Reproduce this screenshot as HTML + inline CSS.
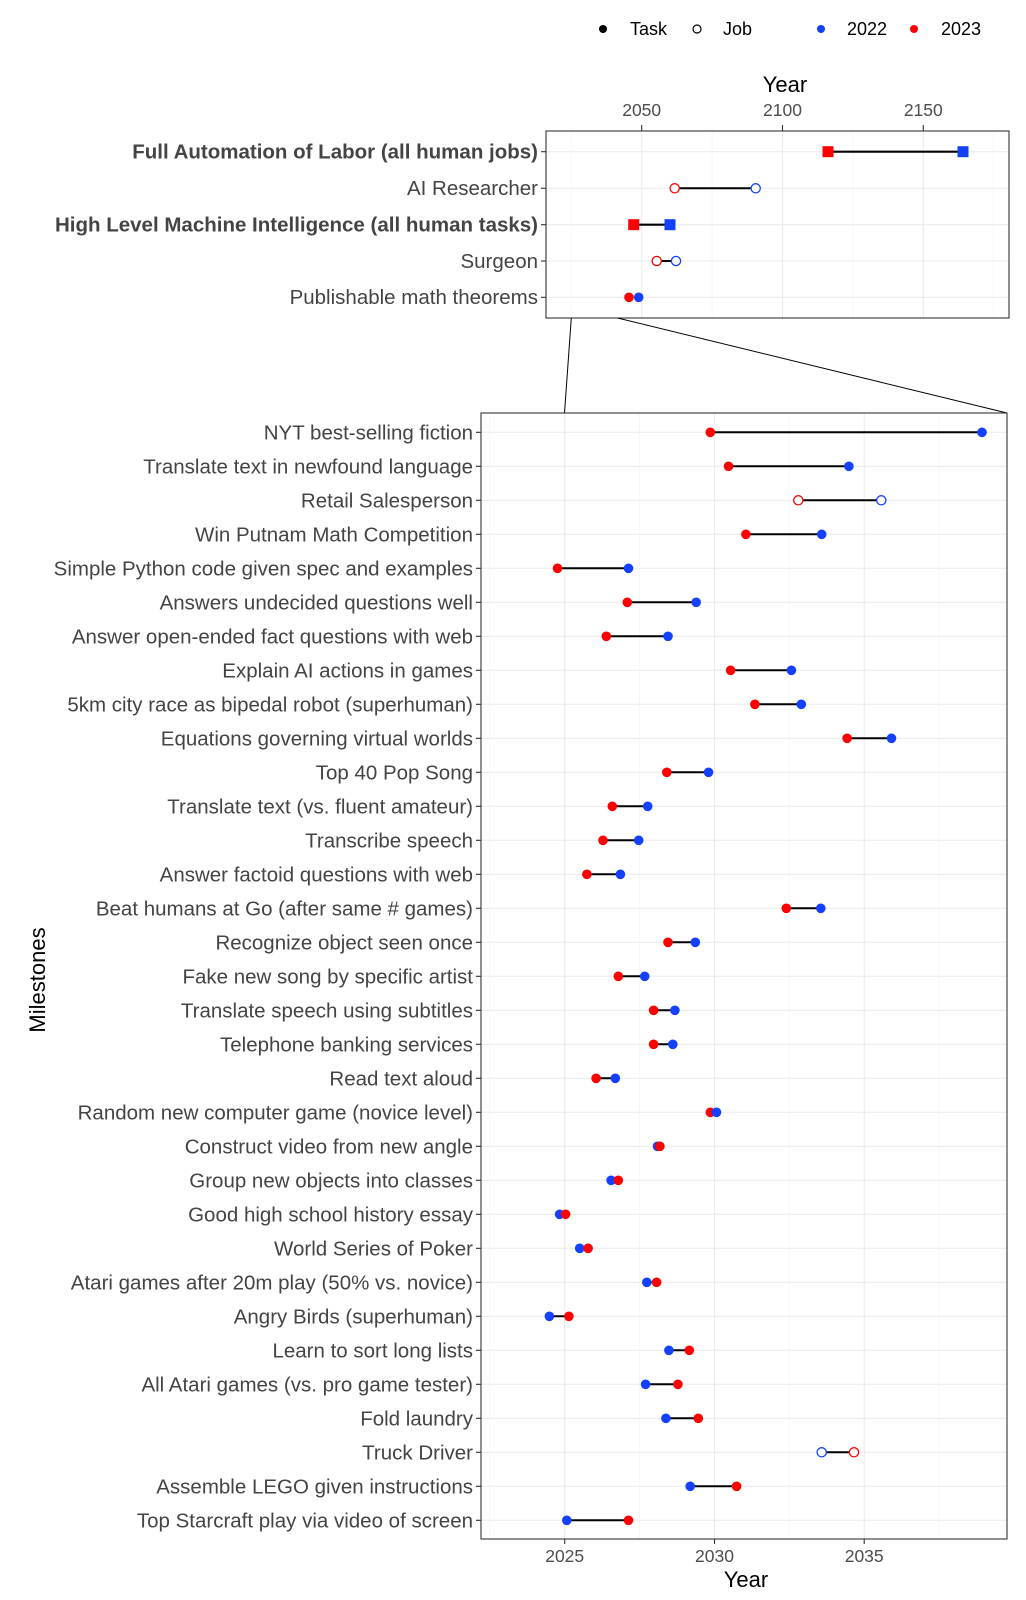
<!DOCTYPE html>
<html><head><meta charset="utf-8"><style>
html,body{margin:0;padding:0;background:#fff;}
svg{display:block;font-family:"Liberation Sans",Arial,sans-serif;}
.lab{font-size:20.5px;fill:#444;text-anchor:end;}
.tk{font-size:17.5px;fill:#4d4d4d;text-anchor:middle;}
.g{stroke:#ebebeb;stroke-width:1.1;}
.gm{stroke:#f2f2f2;stroke-width:0.6;}
.r{fill:#ff0000;}
.b{fill:#1440ff;}
.ro{fill:#fff;stroke:#ff0000;stroke-width:1.3;}
.bo{fill:#fff;stroke:#1440ff;stroke-width:1.3;}
.ln{stroke:#000;stroke-width:2;}
</style></head><body>
<svg width="1026" height="1600" viewBox="0 0 1026 1600" xmlns="http://www.w3.org/2000/svg">
<rect width="1026" height="1600" fill="#fff"/>
<g font-size="18" fill="#000">
<circle cx="603" cy="29" r="4" fill="#000"/><text x="630" y="35">Task</text>
<circle cx="697" cy="29" r="4" fill="#fff" stroke="#000" stroke-width="1.2"/><text x="723" y="35">Job</text>
<circle cx="821" cy="29" r="4" class="b"/><text x="847" y="35">2022</text>
<circle cx="914" cy="29" r="4" class="r"/><text x="941" y="35">2023</text>
</g>
<text x="785" y="92" font-size="22" text-anchor="middle" fill="#000">Year</text>
<text class="tk" x="641.7" y="116">2050</text>
<text class="tk" x="782.5" y="116">2100</text>
<text class="tk" x="923.3" y="116">2150</text>
<line x1="641.7" y1="125" x2="641.7" y2="131" stroke="#333" stroke-width="1.1"/>
<line x1="782.5" y1="125" x2="782.5" y2="131" stroke="#333" stroke-width="1.1"/>
<line x1="923.3" y1="125" x2="923.3" y2="131" stroke="#333" stroke-width="1.1"/>
<g>
<line class="gm" x1="571.3" y1="131" x2="571.3" y2="318"/>
<line class="gm" x1="712.1" y1="131" x2="712.1" y2="318"/>
<line class="gm" x1="852.9" y1="131" x2="852.9" y2="318"/>
<line class="gm" x1="993.7" y1="131" x2="993.7" y2="318"/>
<line class="g" x1="641.7" y1="131" x2="641.7" y2="318"/>
<line class="g" x1="782.5" y1="131" x2="782.5" y2="318"/>
<line class="g" x1="923.3" y1="131" x2="923.3" y2="318"/>
<line class="g" x1="546" y1="151.7" x2="1009" y2="151.7"/>
<line class="g" x1="546" y1="188.3" x2="1009" y2="188.3"/>
<line class="g" x1="546" y1="224.7" x2="1009" y2="224.7"/>
<line class="g" x1="546" y1="261" x2="1009" y2="261"/>
<line class="g" x1="546" y1="297.3" x2="1009" y2="297.3"/>
</g>
<rect x="546" y="131" width="463" height="187" fill="none" stroke="#333" stroke-width="1.1"/>
<g stroke="#333" stroke-width="1.1">
<line x1="541" y1="151.7" x2="546" y2="151.7"/><line x1="541" y1="188.3" x2="546" y2="188.3"/><line x1="541" y1="224.7" x2="546" y2="224.7"/><line x1="541" y1="261" x2="546" y2="261"/><line x1="541" y1="297.3" x2="546" y2="297.3"/>
</g>
<text class="lab" x="538" y="158.5" font-weight="bold">Full Automation of Labor (all human jobs)</text>
<text class="lab" x="538" y="195">AI Researcher</text>
<text class="lab" x="538" y="231.5" font-weight="bold">High Level Machine Intelligence (all human tasks)</text>
<text class="lab" x="538" y="268">Surgeon</text>
<text class="lab" x="538" y="304">Publishable math theorems</text>
<line x1="828" y1="151.7" x2="963" y2="151.7" stroke="#000" stroke-width="2.2"/>
<rect x="822.5" y="146.2" width="11" height="11" class="r"/><rect x="957.5" y="146.2" width="11" height="11" class="b"/>
<line class="ln" x1="674.7" y1="188.3" x2="755.7" y2="188.3"/>
<circle cx="674.7" cy="188.3" r="4.6" class="ro"/><circle cx="755.7" cy="188.3" r="4.6" class="bo"/>
<line x1="633.7" y1="224.7" x2="670" y2="224.7" stroke="#000" stroke-width="2.2"/>
<rect x="628.2" y="219.2" width="11" height="11" class="r"/><rect x="664.5" y="219.2" width="11" height="11" class="b"/>
<line class="ln" x1="656.7" y1="261" x2="676" y2="261"/>
<circle cx="656.7" cy="261" r="4.6" class="ro"/><circle cx="676" cy="261" r="4.6" class="bo"/>
<circle cx="629" cy="297.3" r="4.8" class="r"/><circle cx="638.7" cy="297.3" r="4.8" class="b"/>
<line x1="571.3" y1="318" x2="564.5" y2="413" stroke="#000" stroke-width="1"/>
<line x1="617.5" y1="318" x2="1007" y2="413" stroke="#000" stroke-width="1"/>
<g>
<line class="gm" x1="489.8" y1="413" x2="489.8" y2="1539"/>
<line class="gm" x1="639.6" y1="413" x2="639.6" y2="1539"/>
<line class="gm" x1="789.3" y1="413" x2="789.3" y2="1539"/>
<line class="gm" x1="939.1" y1="413" x2="939.1" y2="1539"/>
<line class="g" x1="564.7" y1="413" x2="564.7" y2="1539"/>
<line class="g" x1="714.5" y1="413" x2="714.5" y2="1539"/>
<line class="g" x1="864.2" y1="413" x2="864.2" y2="1539"/>
</g>
<g class="g">
<line x1="481" y1="432.3" x2="1007" y2="432.3"/><line x1="481" y1="466.3" x2="1007" y2="466.3"/><line x1="481" y1="500.3" x2="1007" y2="500.3"/><line x1="481" y1="534.3" x2="1007" y2="534.3"/><line x1="481" y1="568.3" x2="1007" y2="568.3"/><line x1="481" y1="602.3" x2="1007" y2="602.3"/><line x1="481" y1="636.3" x2="1007" y2="636.3"/><line x1="481" y1="670.3" x2="1007" y2="670.3"/><line x1="481" y1="704.3" x2="1007" y2="704.3"/><line x1="481" y1="738.3" x2="1007" y2="738.3"/><line x1="481" y1="772.3" x2="1007" y2="772.3"/><line x1="481" y1="806.3" x2="1007" y2="806.3"/><line x1="481" y1="840.3" x2="1007" y2="840.3"/><line x1="481" y1="874.3" x2="1007" y2="874.3"/><line x1="481" y1="908.3" x2="1007" y2="908.3"/><line x1="481" y1="942.3" x2="1007" y2="942.3"/><line x1="481" y1="976.3" x2="1007" y2="976.3"/><line x1="481" y1="1010.3" x2="1007" y2="1010.3"/><line x1="481" y1="1044.3" x2="1007" y2="1044.3"/><line x1="481" y1="1078.3" x2="1007" y2="1078.3"/><line x1="481" y1="1112.3" x2="1007" y2="1112.3"/><line x1="481" y1="1146.3" x2="1007" y2="1146.3"/><line x1="481" y1="1180.3" x2="1007" y2="1180.3"/><line x1="481" y1="1214.3" x2="1007" y2="1214.3"/><line x1="481" y1="1248.3" x2="1007" y2="1248.3"/><line x1="481" y1="1282.3" x2="1007" y2="1282.3"/><line x1="481" y1="1316.3" x2="1007" y2="1316.3"/><line x1="481" y1="1350.3" x2="1007" y2="1350.3"/><line x1="481" y1="1384.3" x2="1007" y2="1384.3"/><line x1="481" y1="1418.3" x2="1007" y2="1418.3"/><line x1="481" y1="1452.3" x2="1007" y2="1452.3"/><line x1="481" y1="1486.3" x2="1007" y2="1486.3"/><line x1="481" y1="1520.3" x2="1007" y2="1520.3"/>
</g>
<rect x="481" y="413" width="526" height="1126" fill="none" stroke="#333" stroke-width="1.1"/>
<g stroke="#333" stroke-width="1.1">
<line x1="564.7" y1="1539" x2="564.7" y2="1544"/><line x1="714.5" y1="1539" x2="714.5" y2="1544"/><line x1="864.2" y1="1539" x2="864.2" y2="1544"/>
</g>
<text class="tk" x="564.7" y="1562">2025</text>
<text class="tk" x="714.5" y="1562">2030</text>
<text class="tk" x="864.2" y="1562">2035</text>
<text x="746" y="1587" font-size="22" text-anchor="middle" fill="#000">Year</text>
<text x="0" y="0" font-size="22" text-anchor="middle" fill="#000" transform="translate(45,980) rotate(-90)">Milestones</text>
<g class="lab">
<text x="473" y="439.5">NYT best-selling fiction</text>
<text x="473" y="473.5">Translate text in newfound language</text>
<text x="473" y="507.5">Retail Salesperson</text>
<text x="473" y="541.5">Win Putnam Math Competition</text>
<text x="473" y="575.5">Simple Python code given spec and examples</text>
<text x="473" y="609.5">Answers undecided questions well</text>
<text x="473" y="643.5">Answer open-ended fact questions with web</text>
<text x="473" y="677.5">Explain AI actions in games</text>
<text x="473" y="711.5">5km city race as bipedal robot (superhuman)</text>
<text x="473" y="745.5">Equations governing virtual worlds</text>
<text x="473" y="779.5">Top 40 Pop Song</text>
<text x="473" y="813.5">Translate text (vs. fluent amateur)</text>
<text x="473" y="847.5">Transcribe speech</text>
<text x="473" y="881.5">Answer factoid questions with web</text>
<text x="473" y="915.5">Beat humans at Go (after same # games)</text>
<text x="473" y="949.5">Recognize object seen once</text>
<text x="473" y="983.5">Fake new song by specific artist</text>
<text x="473" y="1017.5">Translate speech using subtitles</text>
<text x="473" y="1051.5">Telephone banking services</text>
<text x="473" y="1085.5">Read text aloud</text>
<text x="473" y="1119.5">Random new computer game (novice level)</text>
<text x="473" y="1153.5">Construct video from new angle</text>
<text x="473" y="1187.5">Group new objects into classes</text>
<text x="473" y="1221.5">Good high school history essay</text>
<text x="473" y="1255.5">World Series of Poker</text>
<text x="473" y="1289.5">Atari games after 20m play (50% vs. novice)</text>
<text x="473" y="1323.5">Angry Birds (superhuman)</text>
<text x="473" y="1357.5">Learn to sort long lists</text>
<text x="473" y="1391.5">All Atari games (vs. pro game tester)</text>
<text x="473" y="1425.5">Fold laundry</text>
<text x="473" y="1459.5">Truck Driver</text>
<text x="473" y="1493.5">Assemble LEGO given instructions</text>
<text x="473" y="1527.5">Top Starcraft play via video of screen</text>
</g>
<g stroke="#333" stroke-width="1.1">
<path d="M476 432.3h5M476 466.3h5M476 500.3h5M476 534.3h5M476 568.3h5M476 602.3h5M476 636.3h5M476 670.3h5M476 704.3h5M476 738.3h5M476 772.3h5M476 806.3h5M476 840.3h5M476 874.3h5M476 908.3h5M476 942.3h5M476 976.3h5M476 1010.3h5M476 1044.3h5M476 1078.3h5M476 1112.3h5M476 1146.3h5M476 1180.3h5M476 1214.3h5M476 1248.3h5M476 1282.3h5M476 1316.3h5M476 1350.3h5M476 1384.3h5M476 1418.3h5M476 1452.3h5M476 1486.3h5M476 1520.3h5"/>
</g>
<g class="ln">
<line x1="710.3" y1="432.3" x2="982" y2="432.3"/>
<line x1="728.5" y1="466.3" x2="848.9" y2="466.3"/>
<line x1="798.3" y1="500.3" x2="881.3" y2="500.3"/>
<line x1="745.9" y1="534.3" x2="821.7" y2="534.3"/>
<line x1="557.5" y1="568.3" x2="628.5" y2="568.3"/>
<line x1="627.3" y1="602.3" x2="696.2" y2="602.3"/>
<line x1="606.3" y1="636.3" x2="668" y2="636.3"/>
<line x1="730.6" y1="670.3" x2="791.4" y2="670.3"/>
<line x1="754.9" y1="704.3" x2="801.3" y2="704.3"/>
<line x1="847.1" y1="738.3" x2="891.5" y2="738.3"/>
<line x1="666.8" y1="772.3" x2="708.5" y2="772.3"/>
<line x1="612.3" y1="806.3" x2="647.7" y2="806.3"/>
<line x1="603" y1="840.3" x2="638.7" y2="840.3"/>
<line x1="586.9" y1="874.3" x2="620.4" y2="874.3"/>
<line x1="786.3" y1="908.3" x2="820.8" y2="908.3"/>
<line x1="668" y1="942.3" x2="695.3" y2="942.3"/>
<line x1="618.3" y1="976.3" x2="644.7" y2="976.3"/>
<line x1="653.6" y1="1010.3" x2="674.9" y2="1010.3"/>
<line x1="653.6" y1="1044.3" x2="672.8" y2="1044.3"/>
<line x1="596.1" y1="1078.3" x2="615.3" y2="1078.3"/>
<line x1="646.8" y1="1282.3" x2="656.6" y2="1282.3"/>
<line x1="549.4" y1="1316.3" x2="568.9" y2="1316.3"/>
<line x1="668.9" y1="1350.3" x2="689.3" y2="1350.3"/>
<line x1="645.6" y1="1384.3" x2="677.9" y2="1384.3"/>
<line x1="665.9" y1="1418.3" x2="698.3" y2="1418.3"/>
<line x1="821.7" y1="1452.3" x2="854" y2="1452.3"/>
<line x1="690.2" y1="1486.3" x2="736.6" y2="1486.3"/>
<line x1="566.8" y1="1520.3" x2="628.5" y2="1520.3"/>
</g>
<g>
<circle cx="982" cy="432.3" r="4.8" class="b"/><circle cx="710.3" cy="432.3" r="4.8" class="r"/>
<circle cx="848.9" cy="466.3" r="4.8" class="b"/><circle cx="728.5" cy="466.3" r="4.8" class="r"/>
<circle cx="881.3" cy="500.3" r="4.6" class="bo"/><circle cx="798.3" cy="500.3" r="4.6" class="ro"/>
<circle cx="821.7" cy="534.3" r="4.8" class="b"/><circle cx="745.9" cy="534.3" r="4.8" class="r"/>
<circle cx="628.5" cy="568.3" r="4.8" class="b"/><circle cx="557.5" cy="568.3" r="4.8" class="r"/>
<circle cx="696.2" cy="602.3" r="4.8" class="b"/><circle cx="627.3" cy="602.3" r="4.8" class="r"/>
<circle cx="668" cy="636.3" r="4.8" class="b"/><circle cx="606.3" cy="636.3" r="4.8" class="r"/>
<circle cx="791.4" cy="670.3" r="4.8" class="b"/><circle cx="730.6" cy="670.3" r="4.8" class="r"/>
<circle cx="801.3" cy="704.3" r="4.8" class="b"/><circle cx="754.9" cy="704.3" r="4.8" class="r"/>
<circle cx="891.5" cy="738.3" r="4.8" class="b"/><circle cx="847.1" cy="738.3" r="4.8" class="r"/>
<circle cx="708.5" cy="772.3" r="4.8" class="b"/><circle cx="666.8" cy="772.3" r="4.8" class="r"/>
<circle cx="647.7" cy="806.3" r="4.8" class="b"/><circle cx="612.3" cy="806.3" r="4.8" class="r"/>
<circle cx="638.7" cy="840.3" r="4.8" class="b"/><circle cx="603" cy="840.3" r="4.8" class="r"/>
<circle cx="620.4" cy="874.3" r="4.8" class="b"/><circle cx="586.9" cy="874.3" r="4.8" class="r"/>
<circle cx="820.8" cy="908.3" r="4.8" class="b"/><circle cx="786.3" cy="908.3" r="4.8" class="r"/>
<circle cx="695.3" cy="942.3" r="4.8" class="b"/><circle cx="668" cy="942.3" r="4.8" class="r"/>
<circle cx="644.7" cy="976.3" r="4.8" class="b"/><circle cx="618.3" cy="976.3" r="4.8" class="r"/>
<circle cx="674.9" cy="1010.3" r="4.8" class="b"/><circle cx="653.6" cy="1010.3" r="4.8" class="r"/>
<circle cx="672.8" cy="1044.3" r="4.8" class="b"/><circle cx="653.6" cy="1044.3" r="4.8" class="r"/>
<circle cx="615.3" cy="1078.3" r="4.8" class="b"/><circle cx="596.1" cy="1078.3" r="4.8" class="r"/>
<circle cx="710.3" cy="1112.3" r="4.8" class="r"/><circle cx="716.5" cy="1112.3" r="4.8" class="b"/>
<circle cx="657.5" cy="1146.3" r="4.8" class="b"/><circle cx="659.9" cy="1146.3" r="4.8" class="r"/>
<circle cx="611.1" cy="1180.3" r="4.8" class="b"/><circle cx="618.3" cy="1180.3" r="4.8" class="r"/>
<circle cx="559.6" cy="1214.3" r="4.8" class="b"/><circle cx="565.6" cy="1214.3" r="4.8" class="r"/>
<circle cx="579.7" cy="1248.3" r="4.8" class="b"/><circle cx="588.1" cy="1248.3" r="4.8" class="r"/>
<circle cx="646.8" cy="1282.3" r="4.8" class="b"/><circle cx="656.6" cy="1282.3" r="4.8" class="r"/>
<circle cx="549.4" cy="1316.3" r="4.8" class="b"/><circle cx="568.9" cy="1316.3" r="4.8" class="r"/>
<circle cx="668.9" cy="1350.3" r="4.8" class="b"/><circle cx="689.3" cy="1350.3" r="4.8" class="r"/>
<circle cx="645.6" cy="1384.3" r="4.8" class="b"/><circle cx="677.9" cy="1384.3" r="4.8" class="r"/>
<circle cx="665.9" cy="1418.3" r="4.8" class="b"/><circle cx="698.3" cy="1418.3" r="4.8" class="r"/>
<circle cx="821.7" cy="1452.3" r="4.6" class="bo"/><circle cx="854" cy="1452.3" r="4.6" class="ro"/>
<circle cx="690.2" cy="1486.3" r="4.8" class="b"/><circle cx="736.6" cy="1486.3" r="4.8" class="r"/>
<circle cx="566.8" cy="1520.3" r="4.8" class="b"/><circle cx="628.5" cy="1520.3" r="4.8" class="r"/>
</g>
</svg>
</body></html>
